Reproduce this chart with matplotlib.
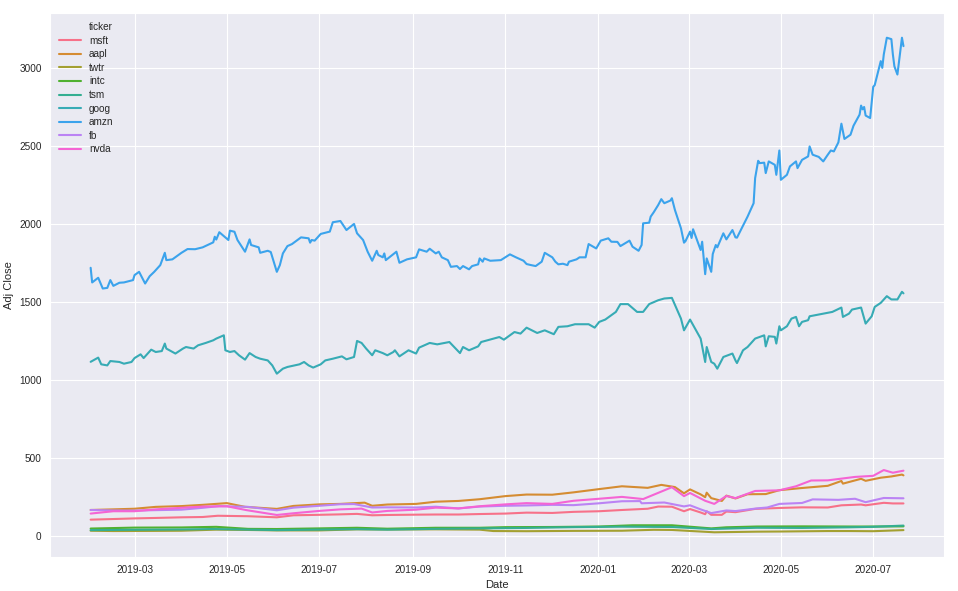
import matplotlib
matplotlib.use("Agg")
import matplotlib.pyplot as plt
import matplotlib.dates as mdates
from matplotlib.lines import Line2D
import seaborn as sns
import pandas as pd

tickers = ["msft", "aapl", "twtr", "intc", "tsm", "goog", "amzn", "fb", "nvda"]

amzn_dates = ["2019-01-31","2019-02-01","2019-02-05","2019-02-08","2019-02-11","2019-02-13","2019-02-15","2019-02-19","2019-02-22","2019-02-28",
"2019-03-01","2019-03-04","2019-03-08","2019-03-11","2019-03-14","2019-03-18","2019-03-21","2019-03-22","2019-03-26","2019-04-01",
"2019-04-05","2019-04-10","2019-04-15","2019-04-22","2019-04-23","2019-04-24","2019-04-26","2019-05-02","2019-05-03","2019-05-06",
"2019-05-08","2019-05-13","2019-05-16","2019-05-17","2019-05-22","2019-05-23","2019-05-28","2019-05-30","2019-06-03","2019-06-05",
"2019-06-07","2019-06-10","2019-06-13","2019-06-19","2019-06-24","2019-06-25","2019-06-26","2019-06-28","2019-07-02","2019-07-08",
"2019-07-10","2019-07-15","2019-07-19","2019-07-24","2019-07-26","2019-07-30","2019-08-02","2019-08-05","2019-08-08","2019-08-09",
"2019-08-12","2019-08-13","2019-08-14","2019-08-19","2019-08-21","2019-08-23","2019-08-28","2019-09-03","2019-09-05","2019-09-10",
"2019-09-12","2019-09-16","2019-09-18","2019-09-20","2019-09-24","2019-09-26","2019-09-30","2019-10-02","2019-10-04","2019-10-08",
"2019-10-10","2019-10-14","2019-10-15","2019-10-17","2019-10-18","2019-10-22","2019-10-29","2019-11-04","2019-11-08","2019-11-13",
"2019-11-15","2019-11-18","2019-11-21","2019-11-25","2019-11-27","2019-12-02","2019-12-04","2019-12-06","2019-12-09","2019-12-12",
"2019-12-13","2019-12-18","2019-12-20","2019-12-24","2019-12-26","2019-12-31","2020-01-03","2020-01-08","2020-01-10","2020-01-14",
"2020-01-16","2020-01-22","2020-01-24","2020-01-28","2020-01-30","2020-01-31","2020-02-04","2020-02-05","2020-02-07","2020-02-10",
"2020-02-12","2020-02-14","2020-02-18","2020-02-19","2020-02-21","2020-02-25","2020-02-27","2020-02-28","2020-03-02","2020-03-03",
"2020-03-04","2020-03-09","2020-03-10","2020-03-12","2020-03-13","2020-03-16","2020-03-17","2020-03-19","2020-03-20","2020-03-23",
"2020-03-24","2020-03-26","2020-03-30","2020-04-01","2020-04-02","2020-04-07","2020-04-09","2020-04-13","2020-04-14","2020-04-16",
"2020-04-17","2020-04-20","2020-04-21","2020-04-23","2020-04-27","2020-04-28","2020-04-30","2020-05-01","2020-05-05","2020-05-07",
"2020-05-11","2020-05-12","2020-05-15","2020-05-19","2020-05-20","2020-05-22","2020-05-26","2020-05-29","2020-06-01","2020-06-03",
"2020-06-05","2020-06-08","2020-06-10","2020-06-12","2020-06-16","2020-06-18","2020-06-22","2020-06-23","2020-06-24","2020-06-25",
"2020-06-26","2020-06-29","2020-07-01","2020-07-02","2020-07-06","2020-07-07","2020-07-08","2020-07-10","2020-07-13","2020-07-14",
"2020-07-15","2020-07-17","2020-07-20","2020-07-21"]
amzn_close = [1719,1625,1655,1586,1590,1640,1603,1623,1625,1640,
1672,1693,1618,1665,1693,1736,1815,1768,1773,1815,
1839,1838,1850,1882,1918,1900,1947,1897,1957,1950,
1897,1822,1901,1865,1850,1815,1828,1820,1693,1736,
1811,1858,1871,1914,1908,1880,1897,1893,1936,1951,
2011,2019,1961,2000,1940,1897,1822,1764,1828,1801,
1786,1811,1768,1807,1822,1751,1773,1786,1837,1822,
1841,1811,1822,1786,1768,1725,1730,1711,1730,1709,
1730,1741,1779,1758,1779,1764,1768,1805,1786,1764,
1743,1736,1730,1758,1815,1786,1758,1741,1745,1736,
1758,1773,1786,1786,1871,1843,1893,1908,1886,1885,
1858,1893,1854,1828,1865,2004,2008,2047,2075,2122,
2159,2133,2150,2165,2090,1972,1880,1890,1951,1910,
1966,1833,1886,1678,1779,1693,1807,1865,1850,1918,
1940,1901,1961,1914,1912,2008,2047,2133,2294,2405,
2390,2393,2326,2401,2379,2315,2471,2283,2315,2369,
2401,2358,2411,2433,2497,2444,2430,2401,2444,2471,
2465,2523,2643,2545,2572,2630,2701,2759,2735,2750,
2695,2679,2879,2890,3044,3001,3087,3194,3185,3087,
3011,2958,3194,3140]

goog_dates = ["2019-01-31","2019-02-05","2019-02-07","2019-02-11","2019-02-13","2019-02-19","2019-02-22","2019-02-27","2019-03-01","2019-03-05",
"2019-03-07","2019-03-12","2019-03-15","2019-03-19","2019-03-21","2019-03-22","2019-03-28","2019-04-02","2019-04-04","2019-04-09",
"2019-04-12","2019-04-17","2019-04-22","2019-04-24","2019-04-29","2019-04-30","2019-05-03","2019-05-06","2019-05-09","2019-05-13",
"2019-05-16","2019-05-20","2019-05-23","2019-05-28","2019-05-31","2019-06-03","2019-06-07","2019-06-10","2019-06-18","2019-06-21",
"2019-06-24","2019-06-27","2019-07-02","2019-07-05","2019-07-10","2019-07-16","2019-07-19","2019-07-24","2019-07-26","2019-07-29",
"2019-08-01","2019-08-05","2019-08-07","2019-08-12","2019-08-15","2019-08-19","2019-08-20","2019-08-23","2019-08-29","2019-09-03",
"2019-09-05","2019-09-12","2019-09-17","2019-09-25","2019-10-02","2019-10-04","2019-10-08","2019-10-14","2019-10-16","2019-10-28",
"2019-10-31","2019-11-07","2019-11-11","2019-11-15","2019-11-22","2019-11-27","2019-12-03","2019-12-06","2019-12-12","2019-12-17",
"2019-12-26","2019-12-30","2020-01-02","2020-01-06","2020-01-13","2020-01-16","2020-01-21","2020-01-27","2020-01-31","2020-02-04",
"2020-02-10","2020-02-14","2020-02-19","2020-02-25","2020-02-27","2020-03-02","2020-03-09","2020-03-12","2020-03-13","2020-03-16",
"2020-03-18","2020-03-20","2020-03-24","2020-03-30","2020-04-01","2020-04-02","2020-04-06","2020-04-09","2020-04-14","2020-04-20",
"2020-04-21","2020-04-23","2020-04-27","2020-04-28","2020-04-30","2020-05-01","2020-05-05","2020-05-08","2020-05-11","2020-05-13",
"2020-05-15","2020-05-19","2020-05-20","2020-05-27","2020-06-01","2020-06-04","2020-06-10","2020-06-11","2020-06-15","2020-06-17",
"2020-06-23","2020-06-26","2020-06-30","2020-07-02","2020-07-06","2020-07-10","2020-07-13","2020-07-17","2020-07-20","2020-07-21"]
goog_close = [1116,1143,1100,1093,1121,1115,1104,1115,1140,1164,
1140,1194,1179,1185,1233,1201,1169,1201,1211,1201,
1222,1237,1254,1265,1286,1190,1179,1185,1158,1130,
1172,1147,1136,1125,1093,1040,1072,1083,1100,1115,
1093,1079,1100,1125,1136,1151,1132,1147,1250,1237,
1201,1158,1190,1172,1158,1179,1190,1151,1190,1169,
1207,1237,1228,1243,1172,1211,1190,1215,1243,1275,
1258,1307,1297,1335,1301,1318,1293,1340,1344,1357,
1357,1335,1372,1387,1436,1486,1486,1436,1436,1486,
1511,1522,1526,1393,1318,1387,1265,1115,1211,1115,
1104,1072,1147,1169,1125,1108,1190,1211,1265,1286,
1215,1280,1276,1233,1344,1318,1344,1393,1404,1344,
1372,1383,1408,1421,1430,1436,1464,1404,1425,1451,
1464,1361,1408,1468,1494,1537,1516,1516,1565,1555]

aapl_dates = ["2019-01-31","2019-02-15","2019-03-01","2019-03-15","2019-04-01","2019-04-15","2019-05-01","2019-05-13","2019-06-03","2019-06-14",
"2019-07-01","2019-07-15","2019-07-31","2019-08-05","2019-08-15","2019-09-03","2019-09-16","2019-10-01","2019-10-15","2019-11-01",
"2019-11-15","2019-12-02","2019-12-16","2020-01-02","2020-01-17","2020-02-03","2020-02-12","2020-02-21","2020-02-27","2020-03-02",
"2020-03-09","2020-03-12","2020-03-13","2020-03-16","2020-03-23","2020-03-26","2020-04-01","2020-04-09","2020-04-21","2020-04-30",
"2020-05-15","2020-06-01","2020-06-10","2020-06-11","2020-06-23","2020-06-26","2020-07-06","2020-07-13","2020-07-20","2020-07-21"]
aapl_close = [166,170,174,186,191,199,210,186,173,192,
202,205,213,193,201,205,219,224,235,255,
265,264,279,300,318,308,327,313,273,298,
266,248,277,242,224,258,240,267,268,293,
307,321,352,335,366,353,373,381,393,388]

nvda_dates = ["2019-01-31","2019-02-15","2019-03-01","2019-03-15","2019-04-01","2019-04-15","2019-05-01","2019-05-14","2019-06-03","2019-06-14",
"2019-07-01","2019-07-15","2019-07-29","2019-08-05","2019-08-15","2019-09-03","2019-09-16","2019-10-01","2019-10-15","2019-11-01",
"2019-11-15","2019-12-02","2019-12-16","2020-01-02","2020-01-17","2020-01-31","2020-02-19","2020-02-27","2020-03-02","2020-03-12",
"2020-03-18","2020-03-26","2020-04-01","2020-04-14","2020-04-30","2020-05-11","2020-05-21","2020-06-01","2020-06-19","2020-07-01",
"2020-07-08","2020-07-14","2020-07-21"]
nvda_close = [143,158,158,170,180,188,190,165,134,145,
160,170,175,150,160,168,181,176,190,202,
210,205,225,238,250,236,312,255,275,225,
205,256,242,288,292,318,355,356,378,385,
422,405,418]

fb_dates = ["2019-01-31","2019-02-15","2019-03-01","2019-03-15","2019-04-01","2019-04-15","2019-04-26","2019-05-15","2019-06-03","2019-06-14",
"2019-07-01","2019-07-15","2019-07-24","2019-08-05","2019-08-15","2019-09-03","2019-09-16","2019-10-01","2019-10-15","2019-11-01",
"2019-11-15","2019-12-02","2019-12-16","2020-01-02","2020-01-17","2020-01-29","2020-01-30","2020-02-14","2020-02-27","2020-03-02",
"2020-03-09","2020-03-16","2020-03-26","2020-04-01","2020-04-15","2020-04-22","2020-04-30","2020-05-15","2020-05-22","2020-06-08",
"2020-06-19","2020-06-26","2020-07-08","2020-07-21"]
fb_close = [166,163,162,165,168,180,191,186,164,181,
193,203,204,182,183,182,187,176,188,193,
195,199,197,209,222,223,209,214,189,196,
170,146,163,159,176,182,205,211,234,231,
238,216,243,241]

msft_dates = ["2019-01-31","2019-02-15","2019-03-01","2019-03-15","2019-04-01","2019-04-15","2019-04-25","2019-05-15","2019-06-03","2019-06-14",
"2019-07-01","2019-07-15","2019-07-26","2019-08-05","2019-08-15","2019-09-03","2019-09-16","2019-10-01","2019-10-15","2019-11-01",
"2019-11-15","2019-12-02","2019-12-16","2020-01-02","2020-01-17","2020-02-03","2020-02-10","2020-02-19","2020-02-27","2020-03-02",
"2020-03-09","2020-03-12","2020-03-13","2020-03-16","2020-03-23","2020-03-26","2020-04-01","2020-04-14","2020-04-30","2020-05-15",
"2020-06-01","2020-06-10","2020-06-23","2020-06-26","2020-07-08","2020-07-14","2020-07-21"]
msft_close = [104,108,112,115,119,121,129,126,119,132,
135,138,141,132,134,136,137,137,140,143,
149,147,154,158,166,174,188,187,158,172,
150,139,158,135,135,156,152,173,179,183,
182,196,201,196,212,208,208]

intc_dates = ["2019-01-31","2019-03-01","2019-04-01","2019-04-24","2019-05-15","2019-06-03","2019-07-01","2019-07-26","2019-08-15","2019-09-16",
"2019-10-15","2019-11-01","2019-12-02","2020-01-02","2020-01-24","2020-02-19","2020-03-16","2020-03-26","2020-04-15","2020-05-15",
"2020-06-15","2020-07-01","2020-07-21"]
intc_close = [47,53,54,58,45,44,48,52,46,52,
52,56,57,60,68,68,48,55,60,61,
60,60,61]

tsm_dates = ["2019-01-31","2019-03-01","2019-04-01","2019-04-22","2019-05-15","2019-06-03","2019-07-01","2019-07-26","2019-08-15","2019-09-16",
"2019-10-15","2019-11-15","2019-12-16","2020-01-17","2020-02-19","2020-03-16","2020-04-15","2020-05-15","2020-06-15","2020-07-01",
"2020-07-21"]
tsm_close = [37,39,41,44,40,37,40,43,40,45,
48,51,56,59,57,44,52,51,55,58,
66]

twtr_dates = ["2019-01-31","2019-02-15","2019-03-15","2019-04-01","2019-04-24","2019-05-15","2019-06-03","2019-07-01","2019-07-26","2019-08-15",
"2019-09-16","2019-10-15","2019-10-24","2019-11-15","2019-12-16","2020-01-17","2020-02-07","2020-02-19","2020-03-18","2020-04-15",
"2020-05-01","2020-06-01","2020-06-15","2020-07-01","2020-07-21"]
twtr_close = [33,31,32,33,40,38,35,35,42,41,
42,40,31,30,32,33,39,38,23,27,
28,31,31,30,37]

series = {
    "msft": (msft_dates, msft_close),
    "aapl": (aapl_dates, aapl_close),
    "twtr": (twtr_dates, twtr_close),
    "intc": (intc_dates, intc_close),
    "tsm": (tsm_dates, tsm_close),
    "goog": (goog_dates, goog_close),
    "amzn": (amzn_dates, amzn_close),
    "fb": (fb_dates, fb_close),
    "nvda": (nvda_dates, nvda_close),
}

sns.set_style("darkgrid")
plt.rcParams["font.family"] = ["Liberation Sans", "DejaVu Sans"]

fig = plt.figure(figsize=(9.58, 5.91), dpi=100)
ax = fig.add_axes([0.0522, 0.0575, 0.9333, 0.9205])

colors = sns.color_palette("husl", len(tickers))
handles = []
for t, c in zip(tickers, colors):
    d, v = series[t]
    ax.plot(pd.to_datetime(d), v, color=c, lw=1.5, label=t)
    handles.append(Line2D([], [], color=c, lw=1.5))

ax.xaxis.set_major_locator(mdates.MonthLocator(bymonth=[1, 3, 5, 7, 9, 11]))
ax.xaxis.set_major_formatter(mdates.DateFormatter("%Y-%m"))
ax.set_yticks([0, 500, 1000, 1500, 2000, 2500, 3000])
ax.tick_params(axis="both", labelsize=7.2, colors=".15", length=0, pad=6)
ax.set_xlabel("Date", fontsize=8, color=".15", labelpad=3)
ax.set_ylabel("Adj Close", fontsize=8, color=".15", labelpad=4)

blank = Line2D([], [], color="none")
leg = ax.legend([blank] + handles, ["ticker"] + tickers, loc="upper left",
                frameon=False, fontsize=7.2, handlelength=2.2,
                labelspacing=0.36, borderaxespad=0.5)
for txt in leg.get_texts():
    txt.set_color(".15")

fig.savefig("out.png", dpi=100)
